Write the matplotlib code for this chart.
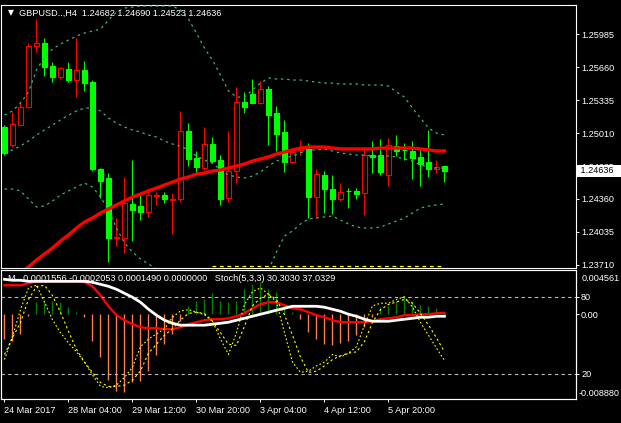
import numpy as np
import matplotlib.pyplot as plt
from matplotlib.transforms import blended_transform_factory

plt.rcParams['font.family'] = ['Liberation Sans', 'DejaVu Sans']

# GBPUSD H4 candles
opens = [1.25069, 1.24892, 1.25089, 1.25266, 1.25867, 1.25896, 1.25670, 1.25562, 1.25640, 1.25532,
         1.25631, 1.25512, 1.24655, 1.24567, 1.23976, 1.23976, 1.24311, 1.24291, 1.24232, 1.24390,
         1.24400, 1.24355, 1.24360, 1.25030, 1.24764, 1.24665, 1.24902, 1.24744, 1.24370, 1.24636,
         1.25315, 1.25394, 1.25305, 1.25443, 1.25207, 1.25020, 1.24724, 1.24843, 1.24852, 1.24380,
         1.24596, 1.24458, 1.24360, 1.24439, 1.24439, 1.24419, 1.24793, 1.24793, 1.24596, 1.24882,
         1.24843, 1.24833, 1.24774, 1.24724, 1.24655, 1.24682]
highs = [1.25089, 1.25217, 1.25325, 1.25896, 1.26133, 1.25946, 1.25709, 1.25660, 1.25709, 1.25946,
         1.25719, 1.25532, 1.24665, 1.24616, 1.24173, 1.24577, 1.24744, 1.24419, 1.24468, 1.24429,
         1.24429, 1.24419, 1.25227, 1.25108, 1.24833, 1.25069, 1.24971, 1.24793, 1.25030, 1.25463,
         1.25414, 1.25542, 1.25522, 1.25473, 1.25276, 1.25138, 1.24852, 1.24941, 1.24911, 1.24655,
         1.24636, 1.24596, 1.24518, 1.24468, 1.24468, 1.24872, 1.24931, 1.24951, 1.24961, 1.24990,
         1.24911, 1.24931, 1.24843, 1.25040, 1.24744, 1.24690]
lows = [1.24793, 1.24872, 1.25089, 1.25256, 1.25808, 1.25571, 1.25512, 1.25542, 1.25512, 1.25365,
        1.25424, 1.24636, 1.24370, 1.23740, 1.23897, 1.23828, 1.23946, 1.24153, 1.24183, 1.24301,
        1.24321, 1.24016, 1.24330, 1.24685, 1.24616, 1.24646, 1.24714, 1.24301, 1.24330, 1.24518,
        1.25207, 1.25305, 1.25296, 1.24892, 1.24833, 1.24626, 1.24714, 1.24793, 1.24173, 1.24173,
        1.24222, 1.24212, 1.24340, 1.24271, 1.24360, 1.24202, 1.24616, 1.24596, 1.24488, 1.24783,
        1.24744, 1.24557, 1.24488, 1.24577, 1.24616, 1.24523]
closes = [1.24813, 1.25099, 1.25266, 1.25867, 1.25896, 1.25660, 1.25562, 1.25650, 1.25532, 1.25631,
          1.25502, 1.24655, 1.24537, 1.23976, 1.23986, 1.24321, 1.24252, 1.24232, 1.24400, 1.24400,
          1.24360, 1.24360, 1.25030, 1.24754, 1.24675, 1.24902, 1.24734, 1.24360, 1.24636, 1.25315,
          1.25266, 1.25305, 1.25443, 1.25187, 1.25000, 1.24724, 1.24823, 1.24862, 1.24380, 1.24606,
          1.24458, 1.24360, 1.24429, 1.24434, 1.24409, 1.24793, 1.24774, 1.24626, 1.24892, 1.24833,
          1.24838, 1.24764, 1.24705, 1.24655, 1.24675, 1.24636]

ma_line = [1.23503, 1.23562, 1.23631, 1.23690, 1.23759, 1.23818, 1.23877, 1.23946, 1.24005, 1.24074,
           1.24133, 1.24173, 1.24222, 1.24261, 1.24301, 1.24340, 1.24380, 1.24409, 1.24439, 1.24468,
           1.24498, 1.24527, 1.24557, 1.24577, 1.24606, 1.24616, 1.24636, 1.24646, 1.24665, 1.24685,
           1.24705, 1.24734, 1.24754, 1.24774, 1.24803, 1.24823, 1.24843, 1.24862, 1.24872, 1.24872,
           1.24872, 1.24862, 1.24853, 1.24853, 1.24853, 1.24853, 1.24853, 1.24862, 1.24862, 1.24862,
           1.24862, 1.24862, 1.24853, 1.24843, 1.24833, 1.24833]

bb_upper = [1.25187, 1.25227, 1.25305, 1.25414, 1.25631, 1.25759, 1.25837, 1.25887, 1.25926, 1.25965,
            1.25995, 1.26015, 1.26034, 1.26123, 1.26202, 1.26241, 1.26251, 1.26261, 1.26261, 1.26261,
            1.26261, 1.26261, 1.26222, 1.26133, 1.25995, 1.25847, 1.25729, 1.25581, 1.25424, 1.25364,
            1.25364, 1.25434, 1.25502, 1.25552, 1.25542, 1.25542, 1.25532, 1.25532, 1.25522, 1.25512,
            1.25502, 1.25502, 1.25493, 1.25493, 1.25493, 1.25483, 1.25483, 1.25483, 1.25473, 1.25414,
            1.25364, 1.25256, 1.25158, 1.25059, 1.25010, 1.24990]
bb_middle = [1.24823, 1.24843, 1.24882, 1.24931, 1.24990, 1.25040, 1.25089, 1.25138, 1.25187, 1.25227,
             1.25256, 1.25256, 1.25227, 1.25158, 1.25108, 1.25069, 1.25040, 1.25020, 1.24990, 1.24971,
             1.24931, 1.24902, 1.24882, 1.24843, 1.24783, 1.24744, 1.24714, 1.24646, 1.24596, 1.24577,
             1.24567, 1.24586, 1.24626, 1.24685, 1.24734, 1.24764, 1.24783, 1.24813, 1.24843, 1.24843,
             1.24853, 1.24833, 1.24813, 1.24803, 1.24793, 1.24793, 1.24783, 1.24783, 1.24783, 1.24774,
             1.24754, 1.24734, 1.24695, 1.24675, 1.24665, 1.24665]
bb_lower = [1.24458, 1.24458, 1.24439, 1.24360, 1.24281, 1.24291, 1.24340, 1.24399, 1.24439, 1.24478,
            1.24517, 1.24478, 1.24380, 1.24252, 1.24074, 1.23927, 1.23838, 1.23769, 1.23720, 1.23670,
            1.23621, 1.23572, 1.23533, 1.23503, 1.23484, 1.23474, 1.23474, 1.23484, 1.23503, 1.23493,
            1.23503, 1.23523, 1.23572, 1.23661, 1.23838, 1.23995, 1.24045, 1.24114, 1.24163, 1.24173,
            1.24183, 1.24192, 1.24153, 1.24114, 1.24084, 1.24074, 1.24074, 1.24084, 1.24114, 1.24143,
            1.24173, 1.24222, 1.24271, 1.24291, 1.24301, 1.24311]

level_price = 1.23700
level_start = 26

# lower window: histogram + two lines, stochastic(5,3,3)
hist = [-0.00259, -0.00279, -0.00207, -0.00021, 0.00124, 0.00134, 0.00134, 0.00124, 0.00072, 0.00021,
        -0.00031, -0.00279, -0.00445, -0.00682, -0.00796, -0.00807, -0.00703, -0.00693, -0.00589, -0.00424,
        -0.00310, -0.00207, -0.00072, 0.00083, 0.00134, 0.00155, 0.00217, 0.00134, 0.00124, 0.00134,
        0.00259, 0.00310, 0.00331, 0.00259, 0.00227, 0.00103, 0.00021, -0.00052, -0.00186, -0.00259,
        -0.00310, -0.00320, -0.00300, -0.00279, -0.00217, -0.00134, -0.00031, 0.00072, 0.00083, 0.00134,
        0.00176, 0.00134, 0.00093, 0.00083, 0.00062, 0.0001556]
white_line = [0.00364, 0.00354, 0.00354, 0.00343, 0.00343, 0.00343, 0.00343, 0.00343, 0.00343, 0.00343,
              0.00343, 0.00333, 0.00312, 0.00291, 0.00260, 0.00218, 0.00177, 0.00125, 0.00052, -0.00010,
              -0.00062, -0.00094, -0.00114, -0.00114, -0.00114, -0.00114, -0.00104, -0.00094, -0.00083, -0.00062,
              -0.00042, -0.00021, 0.00000, 0.00021, 0.00042, 0.00062, 0.00083, 0.00083, 0.00083, 0.00083,
              0.00073, 0.00052, 0.00031, 0.00000, -0.00021, -0.00052, -0.00073, -0.00073, -0.00073, -0.00062,
              -0.00052, -0.00042, -0.00031, -0.00031, -0.00021, -0.0002053]
red_line = [0.00302, 0.00302, 0.00302, 0.00322, 0.00343, 0.00343, 0.00343, 0.00343, 0.00343, 0.00343,
            0.00333, 0.00291, 0.00198, 0.00083, -0.00010, -0.00062, -0.00104, -0.00135, -0.00146, -0.00146,
            -0.00156, -0.00156, -0.00135, -0.00104, -0.00083, -0.00062, -0.00052, -0.00052, -0.00042, -0.00021,
            0.00010, 0.00062, 0.00104, 0.00125, 0.00125, 0.00094, 0.00062, 0.00052, 0.00021, -0.00010,
            -0.00031, -0.00062, -0.00083, -0.00083, -0.00083, -0.00083, -0.00073, -0.00052, -0.00042, -0.00031,
            -0.00010, -0.00010, 0.00000, 0.00000, 0.00010, 0.0001490]
stoch_main = [31, 49, 70, 87, 89, 76, 62, 52, 44, 37, 29, 19, 10, 9, 11, 17, 25, 41, 47, 51,
              55, 64, 69, 70, 68, 66, 61, 47, 35, 52, 74, 84, 87, 82, 76, 52, 29, 21, 22, 26,
              29, 35, 33, 36, 41, 58, 73, 75, 75, 78, 80, 72, 60, 50, 40, 30.3030]
stoch_signal = [35, 48, 60, 78, 88, 89, 81, 68, 53, 39, 29, 21, 13, 10, 10, 11, 15, 22, 36, 43,
                50, 55, 62, 67, 68, 67, 61, 52, 43, 42, 57, 73, 79, 82, 78, 66, 50, 33, 21, 22,
                26, 31, 34, 36, 37, 45, 60, 70, 74, 76, 78, 75, 67, 58, 48, 37.0329]
stoch_levels = [80, 20]

price_ticks = [1.25985, 1.25660, 1.25335, 1.25010, 1.24685, 1.24360, 1.24035, 1.23710]
time_ticks = [0, 8, 16, 24, 32, 40, 48]
time_labels = ['24 Mar 2017', '28 Mar 04:00', '29 Mar 12:00', '30 Mar 20:00',
               '3 Apr 04:00', '4 Apr 12:00', '5 Apr 20:00']

green = '#00FF00'
fs = 6.6

fig = plt.figure(figsize=(6.21, 4.23), dpi=100, facecolor='black')
ax = fig.add_axes([0.0024, 0.3664, 0.9251, 0.6229])
ax2 = fig.add_axes([0.0024, 0.0556, 0.9251, 0.3050], sharex=ax)
ax3 = ax2.twinx()

x = np.arange(len(opens))
o = np.array(opens)
h = np.array(highs)
l = np.array(lows)
c = np.array(closes)
up = c >= o

# candles
ax.vlines(x[up], l[up], h[up], color='red', lw=0.8, zorder=2)
ax.vlines(x[~up], l[~up], h[~up], color=green, lw=0.8, zorder=2)
ax.bar(x[up], c[up] - o[up], bottom=o[up], width=0.55, facecolor='black',
       edgecolor='red', linewidth=0.8, zorder=3)
ax.bar(x[~up], o[~up] - c[~up], bottom=c[~up], width=0.55, facecolor=green,
       edgecolor=green, linewidth=0.8, zorder=3)

# bands + MA
for band in [bb_upper, bb_middle, bb_lower]:
    ax.plot(x, band, color='#3CB371', lw=0.9, ls=(0, (2, 3)), zorder=4)
ax.plot(x, ma_line, color='red', lw=2.4, zorder=5)
ax.plot(x[level_start:], [level_price] * len(x[level_start:]), color='yellow',
        lw=0.9, ls=(0, (3, 3)), zorder=4)

ax.set_xlim(-0.375, 71.44)
ax.set_ylim(1.23680, 1.26276)
ax.set_facecolor('black')
ax.yaxis.tick_right()
ax.set_yticks(price_ticks)
ax.set_yticklabels(['%.5f' % p for p in price_ticks])
ax.tick_params(axis='y', colors='white', labelsize=fs, length=2.2, width=0.7, pad=1.5)
ax.tick_params(axis='x', bottom=False, labelbottom=False)

ax.text(1.003, closes[-1], ' %.5f          ' % closes[-1], color='black', fontsize=fs,
        va='center', ha='left', transform=blended_transform_factory(ax.transAxes, ax.transData),
        bbox=dict(facecolor='white', edgecolor='none', pad=1.2), clip_on=False, zorder=10)

ax.text(0.0157, 0.968, '▼', color='white', fontsize=5.5, ha='center', va='center',
        transform=ax.transAxes, family=['DejaVu Sans'])
ax.text(0.0305, 0.968, 'GBPUSD..,H4  %.5f %.5f %.5f %.5f' % (opens[-1], highs[-1], lows[-1], closes[-1]),
        color='white', fontsize=fs, ha='left', va='center', transform=ax.transAxes, zorder=10)

# lower window
cols = [green if v > 0 else '#FF7F50' for v in hist]
cols = ['#008000' if v > 0 else '#FF7F50' for v in hist]
ax2.vlines(x, 0, hist, colors=cols, lw=1.0, zorder=2)
ax2.plot(x, red_line, color='red', lw=1.7, zorder=3)
ax2.plot(x, white_line, color='white', lw=2.0, zorder=4)
ax2.set_ylim(-0.00888, 0.004561)
ax2.set_facecolor('black')
ax2.yaxis.tick_right()
ax2.set_yticks([0.0])
ax2.set_yticklabels(['0.00'])
ax2.tick_params(axis='y', colors='white', labelsize=fs, length=2.2, width=0.7, pad=1.5)

for lev in stoch_levels:
    ax3.axhline(lev, color='#C0C0C0', lw=0.8, ls=(0, (3, 3)), zorder=1)
ax3.plot(x, stoch_main, color='yellow', lw=0.8, ls=(0, (1.5, 2)), zorder=5)
ax3.plot(x, stoch_signal, color='yellow', lw=0.8, ls=(0, (2, 2.5)), zorder=5)
ax3.set_ylim(-0.2, 100.6)
ax3.set_yticks(stoch_levels)
ax3.set_yticklabels([str(v) for v in stoch_levels])
ax3.tick_params(axis='y', colors='white', labelsize=fs, length=2.2, width=0.7, pad=1.5)

ax3.text(1.009, 0.94, '0.004561', color='white', fontsize=fs, va='center', ha='left',
         transform=ax3.transAxes, clip_on=False)
ax3.text(1.004, 0.05, '-0.008880', color='white', fontsize=fs, va='center', ha='left',
         transform=ax3.transAxes, clip_on=False)
ax3.text(0.0113, 0.934, 'M.. %.7f %.7f %.7f %.7f   Stoch(5,3,3) %.4f %.4f'
         % (hist[-1], white_line[-1], red_line[-1], 0.0, stoch_main[-1], stoch_signal[-1]),
         color='white', fontsize=fs, ha='left', va='center', transform=ax3.transAxes, zorder=10)

ax2.set_xticks(time_ticks)
ax2.set_xticklabels(time_labels, ha='left')
ax2.tick_params(axis='x', colors='white', labelsize=fs, length=2.2, width=0.7, pad=2.5)
ax.set_xlim(-0.375, 71.44)

for a in [ax, ax2, ax3]:
    for s in a.spines.values():
        s.set_color('white')
        s.set_linewidth(0.8)

fig.savefig('out.png', dpi=100, facecolor='black')
